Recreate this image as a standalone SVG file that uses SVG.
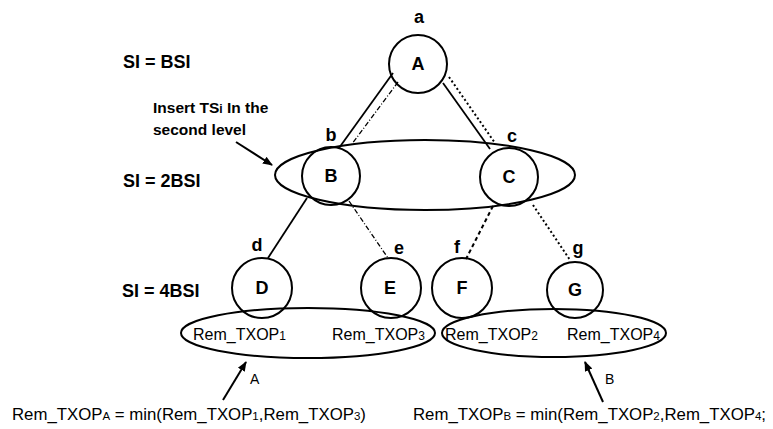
<svg xmlns="http://www.w3.org/2000/svg" width="773" height="429" viewBox="0 0 773 429">
<style>
.bg{fill:#fff}
.node{fill:none;stroke:#000;stroke-width:2}
.grp{fill:none;stroke:#000;stroke-width:2}
.solid{stroke:#000;stroke-width:1.8;fill:none}
.dotted{stroke:#000;stroke-width:2;stroke-dasharray:2 2.5;fill:none}
.dashdot{stroke:#000;stroke-width:1.3;stroke-dasharray:5 2 1 2;fill:none}
.dashed{stroke:#000;stroke-width:2;stroke-dasharray:4 3;fill:none}
.arr{stroke:#000;stroke-width:2;fill:none}
text{font-family:"Liberation Sans",Arial,sans-serif;fill:#000}
.lbl{font-size:18px;font-weight:bold;text-anchor:middle;dominant-baseline:central}
.si{font-size:18px;font-weight:bold}
.note{font-size:15.5px;font-weight:bold}
.rem{font-size:16px}
.cl{font-size:14px}
.form{font-size:16.8px}
.sub{font-size:12px}
.fsub{font-size:11.5px}
</style>
<defs>
<marker id="ah" viewBox="0 0 10 10" refX="9" refY="5" markerWidth="5" markerHeight="5" orient="auto">
<path d="M0,1 L10,5 L0,9 Z" fill="#000"/>
</marker>
</defs>
<rect class="bg" x="0" y="0" width="773" height="429"/>

<g id="connectors">
<line class="solid" x1="393" y1="73" x2="339" y2="148"/>
<line class="dashdot" x1="398" y1="82" x2="352" y2="144"/>
<line class="solid" x1="443" y1="83" x2="490" y2="149"/>
<line class="dotted" x1="449" y1="77" x2="495" y2="143"/>
<line class="solid" x1="307" y1="198" x2="268" y2="258"/>
<line class="dashdot" x1="349" y1="201" x2="388" y2="258"/>
<line class="dashed" x1="493" y1="206" x2="466" y2="259"/>
<line class="dotted" x1="533" y1="205" x2="570" y2="260"/>
</g>

<g id="groups">
<ellipse class="grp" cx="425" cy="175" rx="150" ry="35"/>
<ellipse class="grp" cx="308" cy="333" rx="127" ry="25"/>
<ellipse class="grp" cx="554" cy="333" rx="112" ry="24"/>
</g>

<g id="node-A"><circle class="node" cx="418" cy="64" r="29"/><text class="lbl" x="418" y="64">A</text><text class="lbl" x="419" y="17">a</text></g>
<g id="node-B"><circle class="node" cx="331" cy="176" r="29"/><text class="lbl" x="331" y="176">B</text><text class="lbl" x="331" y="135">b</text></g>
<g id="node-C"><circle class="node" cx="509" cy="177" r="29"/><text class="lbl" x="509" y="177">C</text><text class="lbl" x="512" y="136">c</text></g>
<g id="node-D"><circle class="node" cx="262" cy="288" r="30"/><text class="lbl" x="262" y="288">D</text><text class="lbl" x="257" y="245">d</text></g>
<g id="node-E"><circle class="node" cx="391" cy="288" r="30"/><text class="lbl" x="390" y="288">E</text><text class="lbl" x="399" y="248">e</text></g>
<g id="node-F"><circle class="node" cx="462" cy="288" r="30"/><text class="lbl" x="462" y="288">F</text><text class="lbl" x="457" y="247">f</text></g>
<g id="node-G"><circle class="node" cx="575" cy="290" r="28"/><text class="lbl" x="575" y="290">G</text><text class="lbl" x="578" y="248">g</text></g>

<g id="level-labels">
<text class="si" x="123" y="68">SI = BSI</text>
<text class="si" x="123" y="187">SI = 2BSI</text>
<text class="si" x="122" y="297">SI = 4BSI</text>
</g>

<g id="note">
<text class="note" x="153" y="113">Insert TS<tspan class="sub">i</tspan> In the</text>
<text class="note" x="153" y="135">second level</text>
<line class="arr" x1="236" y1="142" x2="272" y2="165" marker-end="url(#ah)"/>
</g>

<g id="rem-labels">
<text class="rem" x="193" y="340">Rem_TXOP<tspan class="sub">1</tspan></text>
<text class="rem" x="332" y="340">Rem_TXOP<tspan class="sub">3</tspan></text>
<text class="rem" x="445" y="340">Rem_TXOP<tspan class="sub">2</tspan></text>
<text class="rem" x="567" y="340">Rem_TXOP<tspan class="sub">4</tspan></text>
</g>

<g id="callout-A">
<line class="arr" x1="223" y1="400" x2="246" y2="362" marker-end="url(#ah)"/>
<text class="cl" x="250" y="384">A</text>
<text class="form" x="12" y="420">Rem_TXOP<tspan class="fsub">A</tspan> = min(Rem_TXOP<tspan class="fsub">1</tspan>,Rem_TXOP<tspan class="fsub">3</tspan>)</text>
</g>

<g id="callout-B">
<line class="arr" x1="603" y1="402" x2="585" y2="362" marker-end="url(#ah)"/>
<text class="cl" x="605" y="384">B</text>
<text class="form" x="413" y="420">Rem_TXOP<tspan class="fsub">B</tspan> = min(Rem_TXOP<tspan class="fsub">2</tspan>,Rem_TXOP<tspan class="fsub">4</tspan>;</text>
</g>
</svg>
